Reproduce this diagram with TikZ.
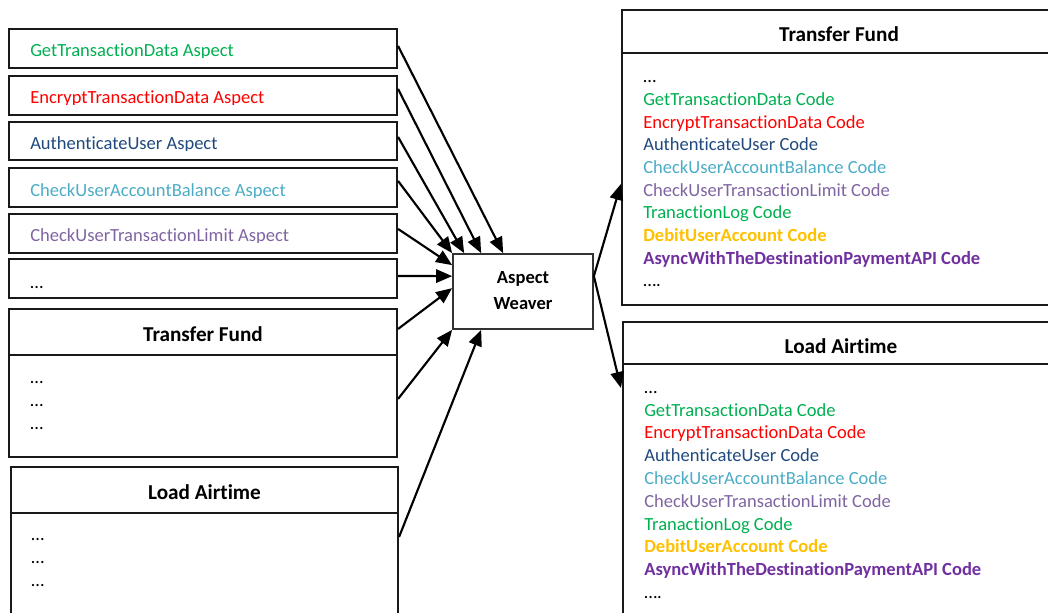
\documentclass[tikz,border=0pt]{standalone}
\usepackage{fontspec}
\setmainfont{Carlito}[Ligatures=CommonOff]
\usetikzlibrary{arrows.meta,fit,calc}

\definecolor{cgreen}{HTML}{00B050}
\definecolor{cred}{HTML}{FF0000}
\definecolor{cnavy}{HTML}{1F497D}
\definecolor{caqua}{HTML}{4BACC6}
\definecolor{clilac}{HTML}{8064A2}
\definecolor{cgold}{HTML}{FFC000}
\definecolor{cpurple}{HTML}{7030A0}

\newcommand\bodysize{\fontsize{13.9}{17}\selectfont}
\newcommand\titlesize{\fontsize{15.9}{19}\selectfont\bfseries}

% woven code listing: #1 name prefix, #2 x, #3 first baseline, #4 line step
\newcommand\wovenlist[4]{%
  \node[txt] (#10) at (#2,#3) {…};
  \node[txt, text=cgreen] (#11) at (#2,#3+#4) {GetTransactionData Code};
  \node[txt, text=cred] (#12) at (#2,#3+2*#4) {EncryptTransactionData Code};
  \node[txt, text=cnavy] (#13) at (#2,#3+3*#4) {AuthenticateUser Code};
  \node[txt, text=caqua] (#14) at (#2,#3+4*#4) {CheckUserAccountBalance Code};
  \node[txt, text=clilac] (#15) at (#2,#3+5*#4) {CheckUserTransactionLimit Code};
  \node[txt, text=cgreen] (#16) at (#2,#3+6*#4) {TranactionLog Code};
  \node[txt, text=cgold, font=\bodysize\bfseries] (#17) at (#2,#3+7*#4) {DebitUserAccount Code};
  \node[txt, text=cpurple, font=\bodysize\bfseries] (#18) at (#2,#3+8*#4) {AsyncWithTheDestinationPaymentAPI Code};
  \node[txt] (#19) at (#2,#3+9*#4) {….};
}

\begin{document}
\begin{tikzpicture}[x=0.75pt,y=-0.75pt,
  box/.style={draw=black!90, line width=1.6pt, inner sep=0pt},
  weaverbox/.style={draw=black!80, line width=1.3pt, inner sep=0pt},
  rule/.style={draw=black!90, line width=1.6pt},
  txt/.style={anchor=base west, inner sep=0pt, font=\bodysize},
  ttl/.style={anchor=base, inner sep=0pt, font=\titlesize},
  wtxt/.style={anchor=base, inner sep=0pt, font=\bodysize\bfseries},
  conn/.style={line width=1.6pt, -{Triangle[length=12pt,width=10pt]}}]

\useasboundingbox (0,0) rectangle (1048,613);
\clip (0,0) rectangle (1048,613);

% ---------- aspect boxes ----------
\node[box, fit={(9,29) (397,68)}] (a1) {};
\node[box, fit={(9,76) (397,115)}] (a2) {};
\node[box, fit={(9,122) (397,160)}] (a3) {};
\node[box, fit={(9,168) (397,207)}] (a4) {};
\node[box, fit={(9,214) (397,253)}] (a5) {};
\node[box, fit={(9,259) (397,298)}] (a6) {};

\begin{scope}
  \clip (9,29) rectangle (397,58);
  \node[txt, text=cgreen] (a1t) at (30,57) {GetTransactionData Aspect};
\end{scope}
\begin{scope}
  \clip (9,76) rectangle (397,104.3);
  \node[txt, text=cred] (a2t) at (30,103.3) {EncryptTransactionData Aspect};
\end{scope}
\begin{scope}
  \clip (9,122) rectangle (397,151);
  \node[txt, text=cnavy] (a3t) at (30,150) {AuthenticateUser Aspect};
\end{scope}
\begin{scope}
  \clip (9,168) rectangle (397,197.7);
  \node[txt, text=caqua] (a4t) at (30,196.7) {CheckUserAccountBalance Aspect};
\end{scope}
\begin{scope}
  \clip (9,214) rectangle (397,242.7);
  \node[txt, text=clilac] (a5t) at (30,241.7) {CheckUserTransactionLimit Aspect};
\end{scope}
\node[txt] (a6t) at (30,288) {…};

% ---------- base modules ----------
\node[box, fit={(9,309) (397,457)}] (ltf) {};
\draw[rule] (ltf.west |- 0,355) -- (ltf.east |- 0,355);
\node[ttl] (ltft) at (203,341) {Transfer Fund};
\node[txt] (ltf1) at (30,383) {…};
\node[txt] (ltf2) at (30,406) {…};
\node[txt] (ltf3) at (30,429) {…};

\node[box, fit={(11,467) (398,630)}] (lla) {};
\draw[rule] (lla.west |- 0,513) -- (lla.east |- 0,513);
\node[ttl] (llat) at (204.5,499) {Load Airtime};
\node[txt] (lla1) at (31,540) {…};
\node[txt] (lla2) at (31,563) {…};
\node[txt] (lla3) at (31,586) {…};

% ---------- weaver ----------
\node[weaverbox, fit={(453,254) (593,329)}] (weaver) {};
\node[wtxt] (w1) at (523,283) {Aspect};
\node[wtxt] (w2) at (523,309) {Weaver};

% ---------- woven modules ----------
\node[box, fit={(622,10) (1056,305)}] (rtf) {};
\draw[rule] (rtf.west |- 0,53) -- (rtf.east |- 0,53);
\node[ttl] (rtft) at (839,42) {Transfer Fund};
\wovenlist{rtf}{643}{82.6}{22.7}

\node[box, fit={(623,322) (1059,630)}] (rla) {};
\draw[rule] (rla.west |- 0,364) -- (rla.east |- 0,364);
\node[ttl] (rlat) at (841,353) {Load Airtime};
\wovenlist{rla}{644}{393.2}{22.8}

% ---------- connectors into the weaver ----------
\draw[conn] ($(a1.north east)+(0,18)$) -- ($(weaver.north west)+(51,0)$);
\draw[conn] ($(a2.north east)+(0,14)$) -- ($(weaver.north west)+(29,0)$);
\draw[conn] ($(a3.north east)+(0,16)$) -- ($(weaver.north west)+(12,0)$);
\draw[conn] ($(a4.north east)+(0,14)$) -- (weaver.north west);
\draw[conn] ($(a5.north east)+(0,16)$) -- ($(weaver.north west)+(0,12)$);
\draw[conn] ($(a6.north east)+(0,18)$) -- ($(weaver.north west)+(0,23)$);
\draw[conn] ($(ltf.north east)+(0,21)$) -- ($(weaver.north west)+(0,35)$);
\draw[conn] ($(ltf.north east)+(0,91)$) -- (weaver.south west);
\draw[conn] ($(lla.north east)+(0,71)$) -- ($(weaver.south west)+(29,0)$);

% ---------- connectors out of the weaver ----------
\draw[conn] ($(weaver.north east)+(0,23)$) -- ($(rtf.north west)+(0,175)$);
\draw[conn] ($(weaver.north east)+(0,23)$) -- ($(rla.north west)+(-1,67)$);

\end{tikzpicture}
\end{document}
